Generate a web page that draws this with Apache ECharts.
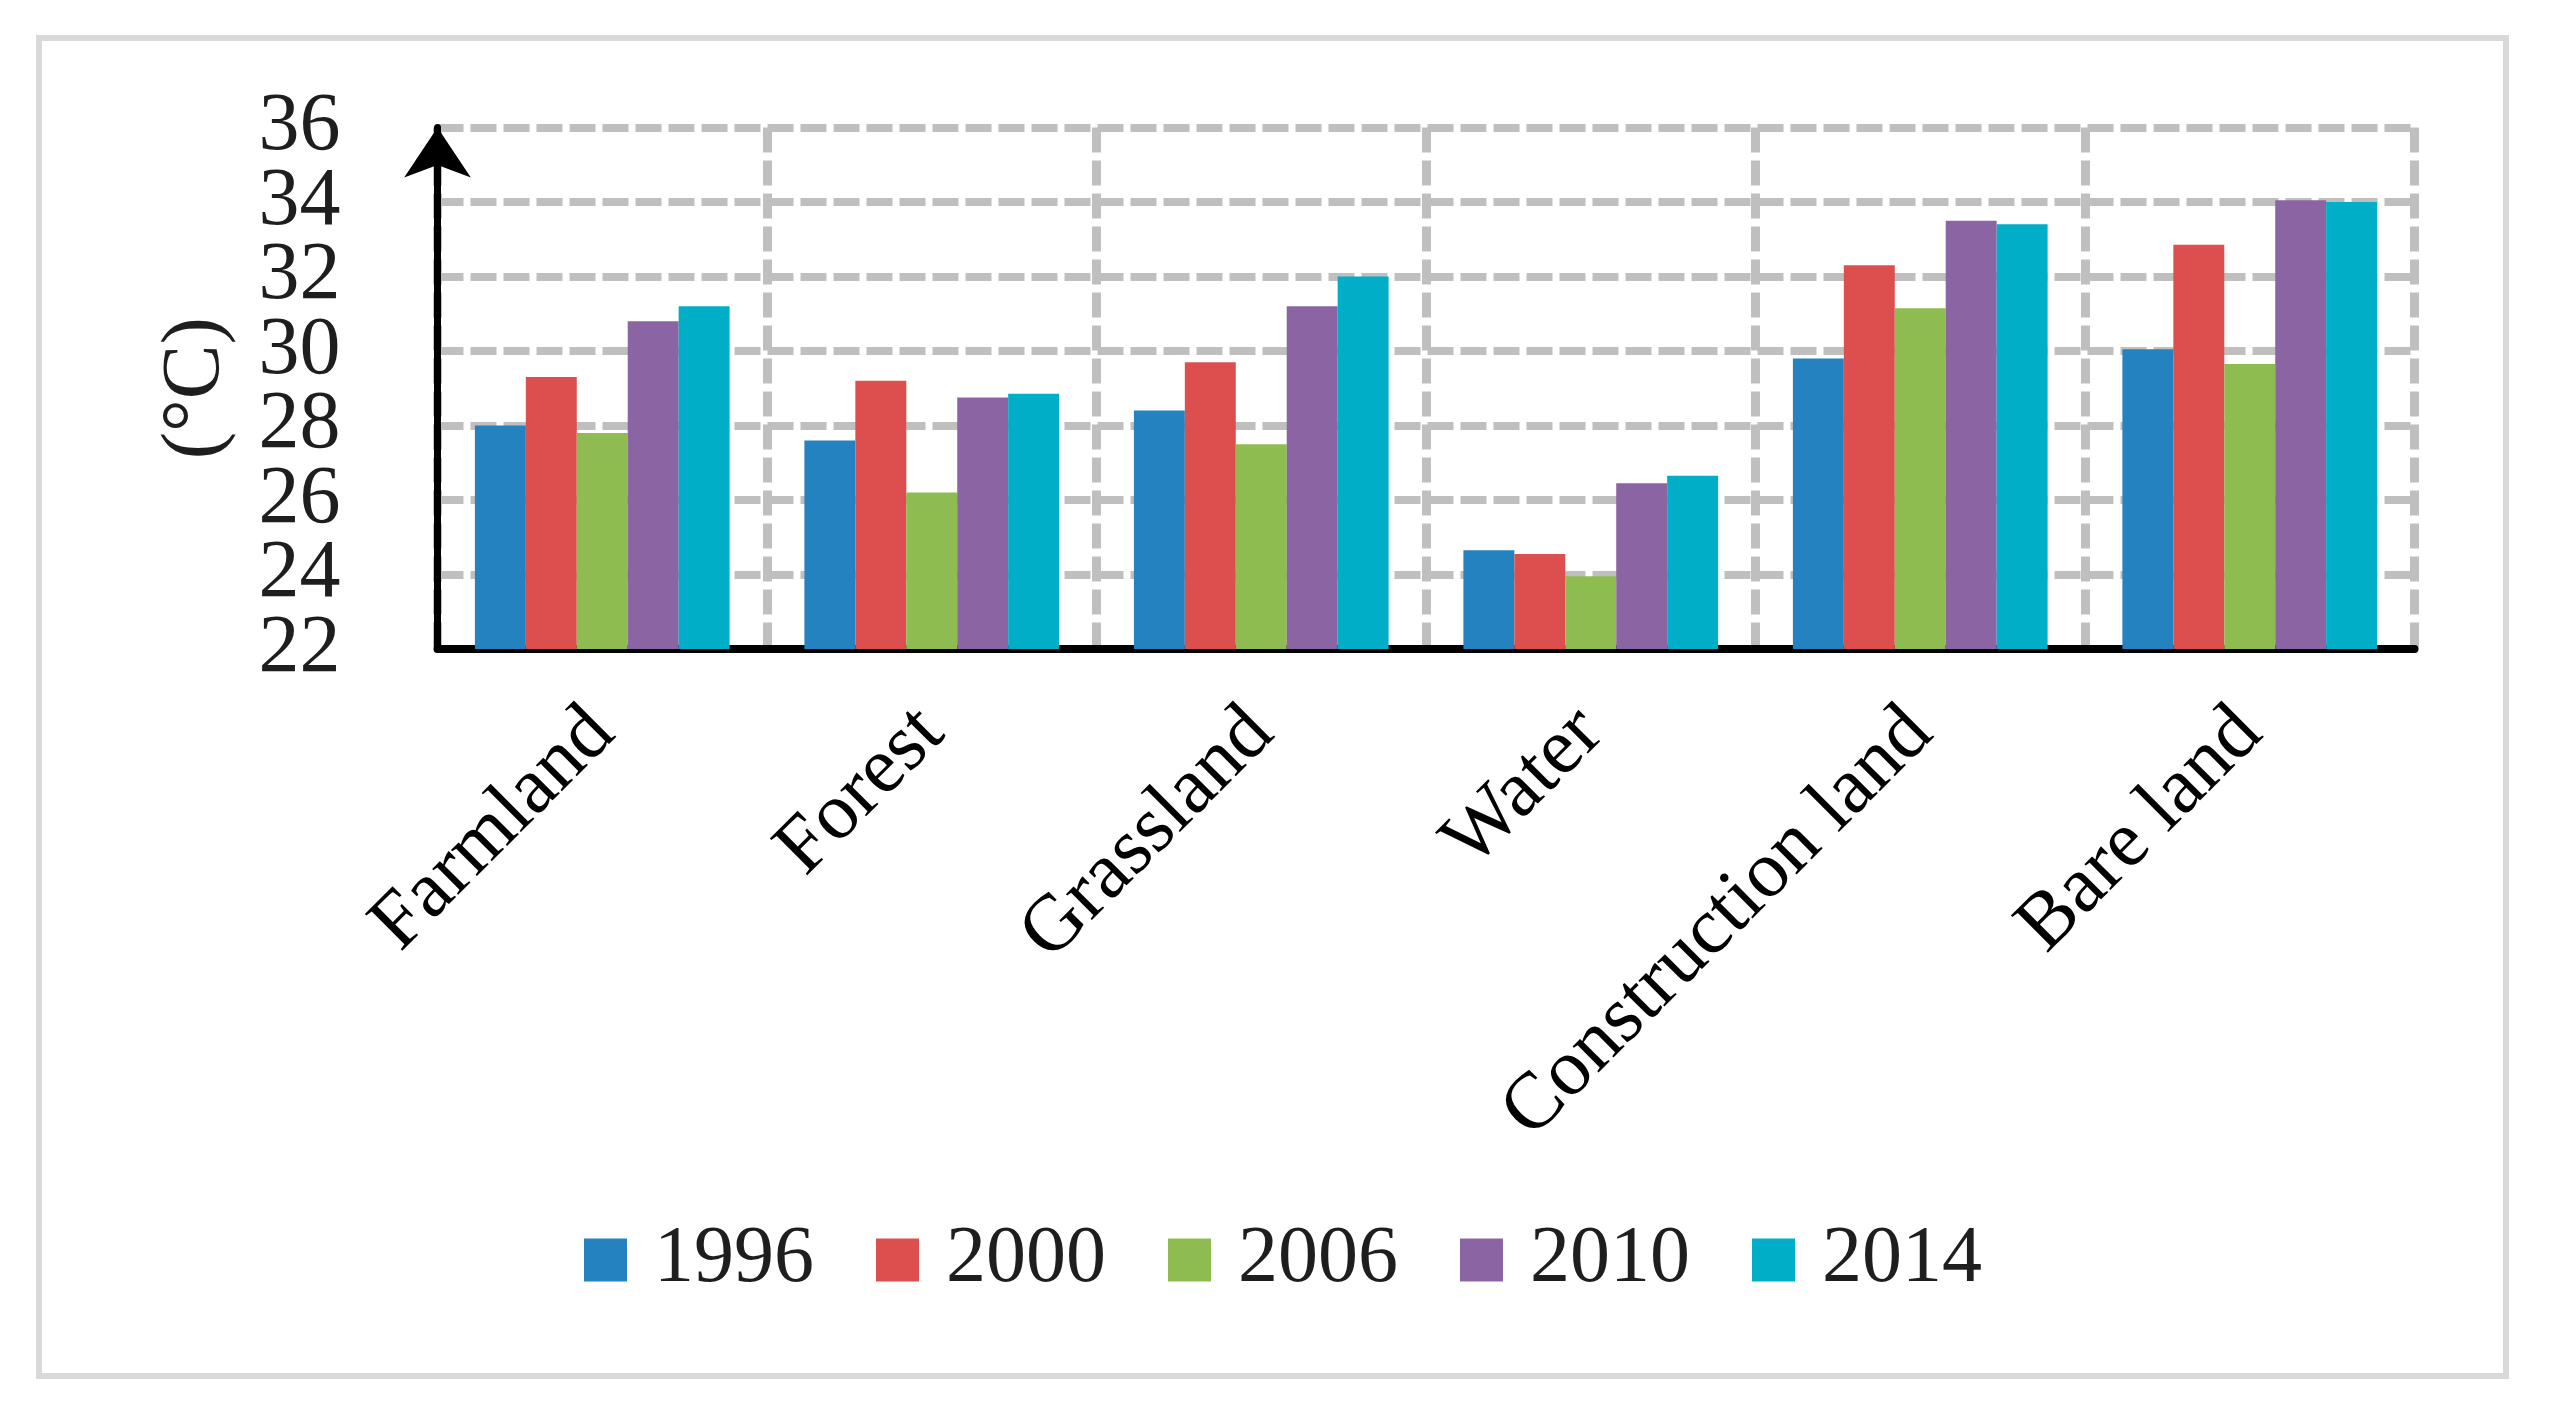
<!DOCTYPE html>
<html>
<head>
<meta charset="utf-8">
<style>
html,body{margin:0;padding:0;background:#fff;}
#chart{width:2566px;height:1427px;}
</style>
<script src="https://cdn.jsdelivr.net/npm/echarts@6/dist/echarts.min.js"></script>
</head>
<body>
<div id="chart"></div>
<script>
const categories = ['Farmland', 'Forest', 'Grassland', 'Water', 'Construction land', 'Bare land'];
const years = ['1996', '2000', '2006', '2010', '2014'];
const v1996 = [28.0, 27.6, 28.4, 24.65, 29.8, 30.05];
const v2000 = [29.3, 29.2, 29.7, 24.55, 32.3, 32.85];
const v2006 = [27.8, 26.2, 27.5, 23.95, 31.15, 29.65];
const v2010 = [30.8, 28.75, 31.2, 26.45, 33.5, 34.05];
const v2014 = [31.2, 28.85, 32.0, 26.65, 33.4, 34.0];
const yTicks = [22, 24, 26, 28, 30, 32, 34, 36];
const colors = ['#2482c0', '#dd4f4e', '#8fbc51', '#8b64a4', '#00aec7'];

const seriesValues = [v1996, v2000, v2006, v2010, v2014];
const font = 'Liberation Serif';

const yLabelBase = {margin: 97, fontFamily: font, fontSize: 82, color: '#1e1e1e', hideOverlap: false};

const chart = echarts.init(document.getElementById('chart'));
chart.setOption({
  animation: false,
  backgroundColor: '#fff',
  color: colors,
  graphic: [{
    type: 'rect',
    shape: {x: 39, y: 38, width: 2467, height: 1338},
    style: {fill: 'none', stroke: '#d9d9d9', lineWidth: 6},
    silent: true, z: -1
  }],
  grid: {left: 437.5, right: 151.5, top: 127.5, bottom: 778, containLabel: false},
  legend: {
    data: years,
    top: 1215,
    left: 'center',
    itemWidth: 43,
    itemHeight: 43,
    itemGap: 62,
    icon: 'rect',
    textStyle: {fontFamily: font, fontSize: 80, color: '#1e1e1e', padding: [0, 0, 0, 22], lineHeight: 80}
  },
  xAxis: {
    type: 'category',
    data: categories,
    boundaryGap: true,
    axisLine: {show: true, lineStyle: {color: '#000', width: 8}},
    axisTick: {show: false},
    axisLabel: {rotate: 45, margin: 72, interval: 0, fontFamily: font, fontSize: 80, color: '#000'},
    splitLine: {show: true, interval: 0, lineStyle: {color: '#bfbfbf', width: 9, type: [25, 8]}}
  },
  yAxis: [{
    type: 'value',
    min: 22, max: 36, interval: 2,
    name: '(°C)',
    nameLocation: 'middle',
    nameGap: 200,
    nameRotate: 90,
    nameTextStyle: {fontFamily: font, fontSize: 82, color: '#1e1e1e'},
    axisLine: {show: true, symbol: ['none', 'arrow'], symbolSize: [50, 50], symbolOffset: [0, 0], lineStyle: {color: '#000', width: 7}},
    axisTick: {show: false},
    axisLabel: Object.assign({}, yLabelBase, {
      showMinLabel: true, showMaxLabel: true,
      formatter: function (v) { return yTicks.indexOf(v) >= 0 ? String(v) : ''; }
    }),
    splitLine: {show: true, lineStyle: {color: '#bfbfbf', width: 8, type: [26, 7]}}
  }, {
    type: 'value',
    position: 'left',
    offset: 0,
    min: 22, max: 36, interval: 2,
    axisLine: {show: false},
    axisTick: {show: false},
    splitLine: {show: false},
    axisLabel: Object.assign({}, yLabelBase, {
      showMinLabel: false, showMaxLabel: false,
      formatter: function (v) { return (v === yTicks[1] || v === yTicks[yTicks.length - 2]) ? String(v) : ''; }
    })
  }],
  series: years.map(function (y, i) {
    return {
      name: y,
      type: 'bar',
      yAxisIndex: 0,
      data: seriesValues[i],
      barGap: '0%',
      barCategoryGap: '22.7%',
      itemStyle: {color: colors[i]}
    };
  })
});
</script>
</body>
</html>
